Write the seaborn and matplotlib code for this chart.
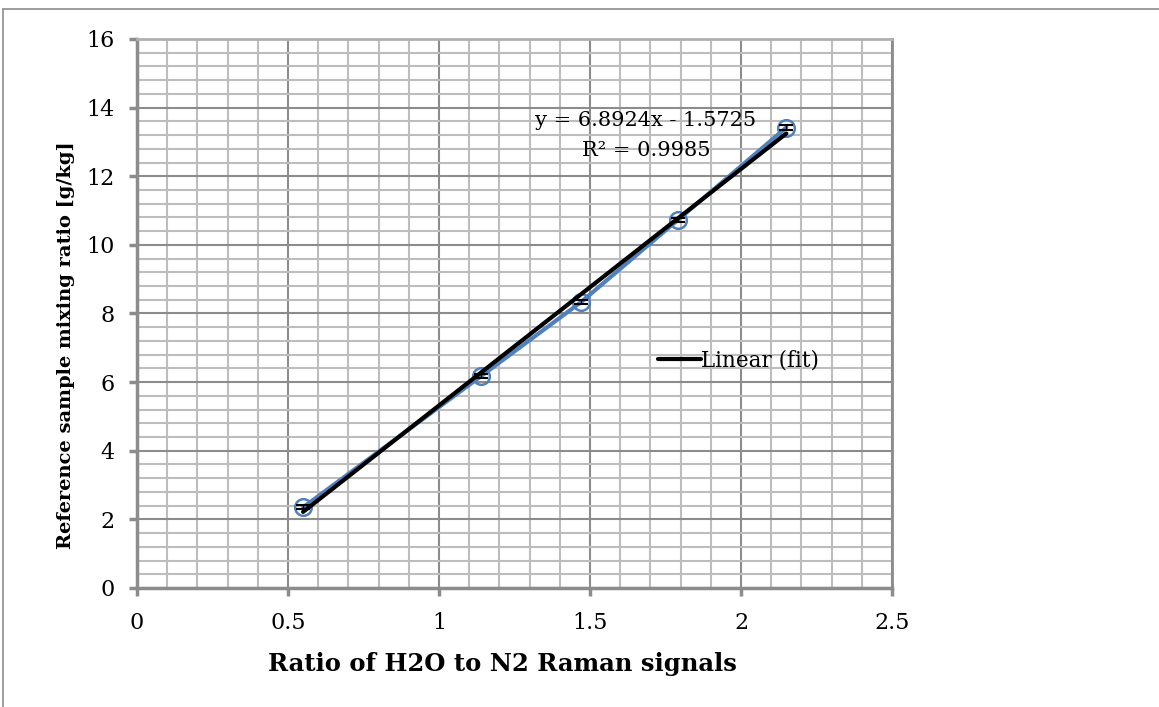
import matplotlib
matplotlib.use("Agg")
import matplotlib.pyplot as plt
import seaborn as sns
import numpy as np
import pandas as pd
from matplotlib.lines import Line2D
from matplotlib.ticker import MultipleLocator

# Data
ratio = [0.55, 1.14, 1.47, 1.79, 2.15]
mixing = [2.35, 6.18, 8.33, 10.72, 13.42]
mixing_err = [0.06, 0.06, 0.06, 0.06, 0.06]
slope = 6.8924
intercept = -1.5725
eq_text = "y = 6.8924x - 1.5725"
r2_text = "R² = 0.9985"
xlabel = "Ratio of H2O to N2 Raman signals"
ylabel = "Reference sample mixing ratio [g/kg]"
legend_label = "Linear (fit)"

sns.set_style("white")
plt.rcParams['font.family'] = ['DejaVu Serif']
plt.rcParams['text.color'] = 'black'
plt.rcParams['axes.labelcolor'] = 'black'

fig = plt.figure(figsize=(11.59, 7.07), dpi=100)
ax = fig.add_axes([137/1159, 1-588/707, (892-137)/1159, (588-39)/707])

df = pd.DataFrame({"x": ratio, "y": mixing})
fit_x = [ratio[0], ratio[-1]]
fit_df = pd.DataFrame({"x": fit_x, "y": [slope*v + intercept for v in fit_x]})

# data series
sns.lineplot(data=df, x="x", y="y", ax=ax, color="#4F81BD", linewidth=3,
             marker="o", markersize=12, markerfacecolor="none",
             markeredgecolor="#4F81BD", markeredgewidth=1.8, legend=False, zorder=3)
ax.errorbar(ratio, mixing, yerr=mixing_err, fmt="none", ecolor="black",
            elinewidth=1, capsize=5, capthick=1.5, zorder=4)
# fit line
sns.lineplot(data=fit_df, x="x", y="y", ax=ax, color="black", linewidth=3,
             label=legend_label, zorder=5)

ax.set_xlim(0, 2.5)
ax.set_ylim(0, 16)
ax.xaxis.set_major_locator(MultipleLocator(0.5))
ax.xaxis.set_minor_locator(MultipleLocator(0.1))
ax.yaxis.set_major_locator(MultipleLocator(2))
ax.yaxis.set_minor_locator(MultipleLocator(0.4))
ax.set_xticks([0, 0.5, 1, 1.5, 2, 2.5])
ax.set_xticklabels(["0", "0.5", "1", "1.5", "2", "2.5"])
ax.grid(which="major", color="#8c8c8c", linewidth=1.5)
ax.grid(which="minor", color="#bdbdbd", linewidth=1.5)
ax.set_axisbelow(True)

for s in ["left", "bottom"]:
    ax.spines[s].set_color("#8c8c8c")
    ax.spines[s].set_linewidth(2.5)
ax.spines["right"].set_color("#8c8c8c")
ax.spines["right"].set_linewidth(2)
ax.spines["top"].set_color("#b0b0b0")
ax.spines["top"].set_linewidth(2)

ax.tick_params(which="major", direction="out", length=6, width=2.5, color="#8c8c8c",
               labelsize=16, labelcolor="black", left=True, bottom=True)
ax.tick_params(axis="x", which="major", pad=11)
ax.tick_params(axis="y", which="major", pad=10)
ax.tick_params(which="minor", length=0)

ax.set_xlabel(xlabel, fontsize=17.5, fontweight="bold")
ax.xaxis.set_label_coords((502-137)/755, -(652-588)/549)
ax.set_ylabel(ylabel, fontsize=14, fontweight="bold")
ax.yaxis.set_label_coords(-(137-75)/755, (588-345)/549)

ax.text(0.674, 0.852, eq_text, transform=ax.transAxes, ha="center", va="center", fontsize=15)
ax.text(0.674, 0.797, r2_text, transform=ax.transAxes, ha="center", va="center", fontsize=15)

leg = ax.legend(loc="center left", bbox_to_anchor=(0.69, 0.415), frameon=False,
                fontsize=15.5, handlelength=2.0, handletextpad=0.0, borderaxespad=0, borderpad=0)

# figure border (partial)
fig.add_artist(Line2D([3/1159, 1], [1-9/707, 1-9/707], color="#8c8c8c", linewidth=1.2, transform=fig.transFigure))
fig.add_artist(Line2D([3/1159, 3/1159], [0, 1-9/707], color="#8c8c8c", linewidth=1.2, transform=fig.transFigure))

fig.savefig("out.png", dpi=100)
